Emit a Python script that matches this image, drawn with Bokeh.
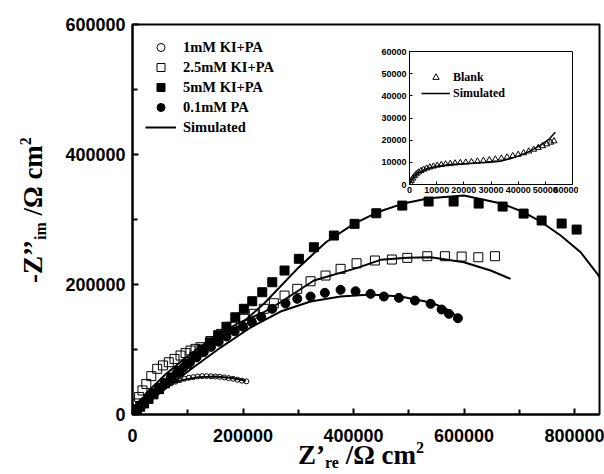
from bokeh.plotting import figure
from bokeh.models import (Range1d, Legend, LegendItem, FixedTicker,
                          BasicTickFormatter, GridBox, Div)
from bokeh.embed import file_html
from bokeh.resources import INLINE

# ---------------- data ----------------
# 1mM KI+PA (open circles)
x_1mM = [3000, 6000, 10000, 15000, 20000, 26000, 32000, 39000, 46000, 54000, 62000,
         70000, 78000, 86000, 94000, 102000, 110000, 118000, 126000, 134000, 142000,
         150000, 158000, 166000, 174000, 182000, 190000, 198000, 206000]
y_1mM = [4000, 9000, 14000, 19000, 23000, 27000, 31000, 35000, 38500, 42000, 45000,
         48000, 50500, 53000, 55000, 56500, 57500, 58500, 59000, 59000, 58800,
         58500, 58000, 57000, 56000, 55000, 53500, 52000, 51000]
xs_1mM = [0, 10000, 30000, 60000, 90000, 120000, 150000, 180000, 205000]
ys_1mM = [0, 13000, 29000, 44000, 53000, 57500, 58500, 56000, 52000]

# 2.5mM KI+PA (open squares)
x_25 = [3000, 7000, 12000, 18000, 25000, 34000, 44700, 55000, 65700, 76000, 86900,
        96000, 105000, 114000, 123100, 141000, 160000, 180000, 201500, 219500, 237600,
        255800, 275100, 298100, 322200, 349300, 376500, 405400, 438600, 469300, 497200,
        533400, 565300, 595500, 625700, 655800]
y_25 = [8000, 17000, 27000, 37000, 47000, 59000, 70300, 75500, 80400, 85500, 90700,
        94500, 98400, 101000, 103500, 113000, 124000, 135000, 147200, 154900, 162600,
        171200, 183000, 193300, 205000, 213800, 224100, 232700, 236900, 238400, 241000,
        243500, 243500, 243000, 241900, 243500]
xs_25 = [0, 25000, 60000, 100000, 140000, 190000, 237600, 267900, 328200, 406700,
         448900, 497200, 539400, 599700, 648000, 684200]
ys_25 = [0, 33000, 62000, 90000, 115000, 140000, 157300, 172700, 206100, 225600,
         237900, 241000, 241900, 234200, 221500, 208700]

# 5mM KI+PA (filled squares)
x_5 = [3000, 8000, 14000, 21000, 29000, 38000, 48000, 59000, 71000, 84000, 98000,
       112000, 126000, 140000, 155000, 170000, 186000, 201500, 216700, 234800, 252900,
       275100, 301000, 328200, 364400, 401800, 441100, 488200, 535800, 581000, 626300,
       669700, 707700, 740300, 776500, 803600]
y_5 = [3000, 7000, 12000, 17000, 24000, 31000, 39000, 48000, 57000, 67000, 78000,
       89000, 100000, 111000, 122000, 135000, 149600, 162600, 174300, 188100, 203500,
       221500, 239500, 257300, 275300, 293300, 309600, 321400, 327600, 327600, 324500,
       319900, 309100, 298400, 293800, 284500]
xs_5 = [0, 30000, 70000, 110000, 150000, 189500, 237700, 298100, 350000, 400500,
        442900, 488200, 536300, 599700, 669200, 708300, 740300, 774700, 810900,
        841100, 850000]
ys_5 = [0, 23000, 52000, 80000, 108000, 134300, 170300, 224100, 265000, 293300,
        311100, 324100, 332700, 336800, 324100, 311100, 295800, 275300, 249600,
        216400, 205000]

# 0.1mM PA (filled circles)
x_01 = [3000, 8000, 14000, 21000, 29000, 38000, 48000, 58000, 69000, 80000, 92000,
        104000, 116000, 129000, 142000, 156000, 170000, 185000, 200000, 216000, 233000,
        252900, 276900, 298100, 322200, 348100, 376500, 403600, 430800, 454900, 482000,
        511000, 539400, 559300, 572500, 588800]
y_01 = [3000, 8000, 13000, 19000, 26000, 33000, 41000, 48000, 56000, 64000, 72000,
        80000, 88000, 96000, 104000, 112000, 120000, 128000, 135000, 142000, 150000,
        162600, 170700, 178000, 181500, 187200, 191800, 189600, 185600, 181500, 179500,
        175300, 170300, 161500, 154900, 148100]
xs_01 = [0, 50700, 105000, 159300, 213600, 267900, 322200, 376500, 430800, 485100,
         539400, 566500, 593700]
ys_01 = [0, 33800, 69200, 103000, 133800, 158400, 173800, 181500, 184600, 181500,
         172300, 163000, 147600]

# Inset: Blank (triangles)
x_blank = [300, 700, 1200, 1800, 2500, 3300, 4200, 5200, 6300, 7500, 8800, 10200,
           11700, 13300, 15000, 16800, 18700, 20700, 22800, 25000, 27200, 29400, 31600,
           33800, 35900, 38000, 40000, 42000, 43900, 45700, 47400, 49000, 50500, 52000,
           53200]
y_blank = [800, 1800, 2800, 3800, 4700, 5500, 6200, 6800, 7300, 7800, 8200, 8600,
           8900, 9200, 9400, 9600, 9800, 10000, 10200, 10500, 10800, 11100, 11400,
           11800, 12300, 12900, 13500, 14200, 15000, 15800, 16600, 17400, 18200, 19000,
           19600]
xs_blank = [0, 1000, 2800, 6400, 10000, 15000, 20000, 25000, 30000, 33400, 37000,
            40000, 43000, 46000, 49000, 51500, 53700]
ys_blank = [0, 2500, 4800, 7100, 8200, 9000, 9400, 9700, 10000, 10500, 11600, 12800,
            14300, 16200, 18300, 20600, 23600]

main_xticks = [0, 200000, 400000, 600000, 800000]
main_xminor = [100000, 300000, 500000, 700000]
main_yticks = [0, 200000, 400000, 600000]
main_yminor = [100000, 300000, 500000]
inset_ticks = [0, 10000, 20000, 30000, 40000, 50000, 60000]

labels_main = ["1mM KI+PA", "2.5mM KI+PA", "5mM KI+PA", "0.1mM PA", "Simulated"]
labels_inset = ["Blank", "Simulated"]

SANS = "Liberation Sans"
SERIF = "Liberation Serif"

# ---------------- main figure ----------------
W, H = 604, 474
p = figure(width=W, height=H, x_range=Range1d(0, 845000), y_range=Range1d(0, 600000),
           output_backend="svg", toolbar_location=None,
           min_border_left=132, min_border_right=5, min_border_top=24, min_border_bottom=60)
p.xgrid.visible = False
p.ygrid.visible = False
p.outline_line_color = "black"
p.outline_line_width = 2
p.background_fill_color = "white"
p.border_fill_color = "white"

p.xaxis.ticker = FixedTicker(ticks=main_xticks, minor_ticks=main_xminor)
p.yaxis.ticker = FixedTicker(ticks=main_yticks, minor_ticks=main_yminor)
for ax in (p.xaxis[0], p.yaxis[0]):
    ax.formatter = BasicTickFormatter(use_scientific=False)
    ax.axis_line_width = 2
    ax.axis_line_color = "black"
    ax.major_tick_in = 6
    ax.major_tick_out = 0
    ax.minor_tick_in = 5
    ax.minor_tick_out = 0
    ax.major_tick_line_width = 2
    ax.minor_tick_line_width = 2
    ax.major_label_text_font = SANS
    ax.major_label_text_font_style = "bold"
    ax.major_label_text_font_size = "18px"
    ax.major_label_text_color = "black"
p.xaxis.major_label_standoff = 14
p.yaxis.major_label_standoff = 7

r1 = p.scatter(x_1mM, y_1mM, marker="circle", size=5, fill_color=None,
               line_color="black", line_width=1)
r2 = p.scatter(x_25, y_25, marker="square", size=9, fill_color=None,
               line_color="black", line_width=1)
r3 = p.scatter(x_5, y_5, marker="square", size=9, fill_color="black", line_color="black")
r4 = p.scatter(x_01, y_01, marker="circle", size=9, fill_color="black", line_color="black")

ls = p.line(xs_1mM, ys_1mM, line_color="black", line_width=2)
p.line(xs_25, ys_25, line_color="black", line_width=2)
p.line(xs_5, ys_5, line_color="black", line_width=2)
p.line(xs_01, ys_01, line_color="black", line_width=2)

# legend: location tuple = bottom-left corner, from frame bottom-left
leg = Legend(items=[LegendItem(label=labels_main[0], renderers=[r1]),
                    LegendItem(label=labels_main[1], renderers=[r2]),
                    LegendItem(label=labels_main[2], renderers=[r3]),
                    LegendItem(label=labels_main[3], renderers=[r4]),
                    LegendItem(label=labels_main[4], renderers=[ls])],
             location=(13, 277), margin=0, padding=0, spacing=0,
             glyph_width=31, glyph_height=20, label_height=20, label_standoff=7,
             label_text_font=SERIF, label_text_font_style="bold",
             label_text_font_size="14.5px", label_text_color="black",
             border_line_color=None, background_fill_alpha=0)
p.add_layout(leg)

# ---------------- inset figure ----------------
IW, IH = 201, 153
inset = figure(width=IW, height=IH, x_range=Range1d(0, 60000), y_range=Range1d(0, 60000),
               output_backend="svg", toolbar_location=None,
               min_border_left=32, min_border_right=6, min_border_top=6, min_border_bottom=14)
inset.xgrid.visible = False
inset.ygrid.visible = False
inset.outline_line_color = "black"
inset.outline_line_width = 1
inset.background_fill_color = "white"
inset.border_fill_color = None
inset.xaxis.ticker = FixedTicker(ticks=inset_ticks, minor_ticks=[])
inset.yaxis.ticker = FixedTicker(ticks=inset_ticks, minor_ticks=[])
for ax in (inset.xaxis[0], inset.yaxis[0]):
    ax.formatter = BasicTickFormatter(use_scientific=False)
    ax.axis_line_width = 1
    ax.major_tick_in = 3
    ax.major_tick_out = 0
    ax.major_label_text_font = SANS
    ax.major_label_text_font_style = "bold"
    ax.major_label_text_font_size = "9px"
    ax.major_label_text_color = "black"
inset.xaxis.major_label_standoff = 2
inset.yaxis.major_label_standoff = 3

rb = inset.scatter(x_blank, y_blank, marker="triangle", size=6, fill_color=None,
                   line_color="black", line_width=1)
lb = inset.line(xs_blank, ys_blank, line_color="black", line_width=1.5)
ileg = Legend(items=[LegendItem(label=labels_inset[0], renderers=[rb]),
                     LegendItem(label=labels_inset[1], renderers=[lb])],
              location=(12, 83), margin=0, padding=0, spacing=0,
              glyph_width=29, glyph_height=16, label_height=16, label_standoff=3,
              label_text_font=SERIF, label_text_font_style="bold",
              label_text_font_size="12px", label_text_color="black",
              border_line_color=None, background_fill_alpha=0)
inset.add_layout(ileg)

# ---------------- axis titles with sub/superscripts (HTML text) ----------------
sub = "font-size:16px;position:relative;top:4px;"
sup = "font-size:16px;position:relative;top:-11px;"
common = "position:absolute;font-size:27px;line-height:27px;white-space:nowrap;"
xtitle = (f'<div style="{common}left:298px;top:442px;">'
          f'Z’<span style="{sub}">re</span> /Ω cm<span style="{sup}">2</span></div>')
ytitle = (f'<div style="{common}left:20px;top:283px;transform-origin:0 0;'
          f'transform:rotate(-90deg);">'
          f'-Z’’<span style="{sub}">im</span> /Ω cm<span style="{sup}">2</span></div>')
titles = Div(text=(f'<div style="position:relative;width:{W}px;height:{H}px;'
                   f"font-family:'Liberation Serif';font-weight:bold;color:black;\">"
                   f'{xtitle}{ytitle}</div>'),
             width=W, height=H, margin=0)

# ---------------- overlapping grid: main, inset on top, titles ----------------
grid = GridBox(children=[(p, 0, 0, 3, 3), (inset, 1, 1, 1, 1), (titles, 0, 0, 3, 3)],
               rows=["45px", "153px", "276px"], cols=["377px", "201px", "26px"],
               spacing=0)

open("out.html", "w").write(file_html(grid, INLINE))
